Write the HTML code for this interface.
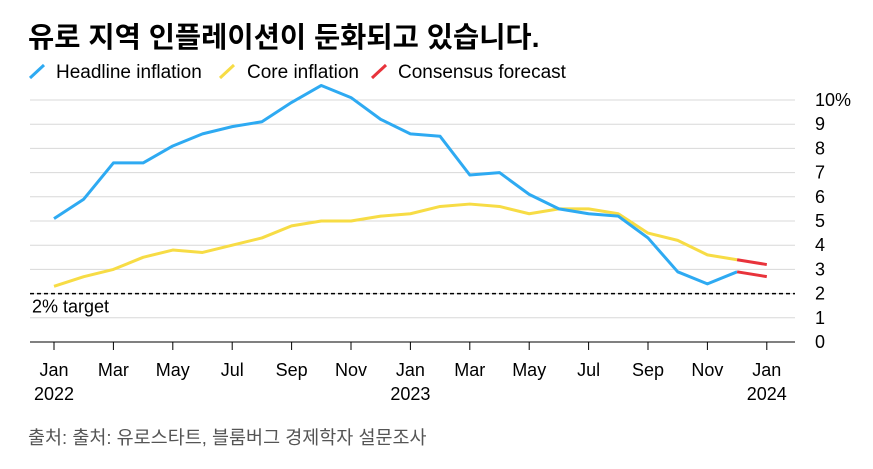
<!DOCTYPE html>
<html><head><meta charset="utf-8"><style>
body{margin:0;background:#fff;width:873px;height:464px;overflow:hidden;font-family:"Liberation Sans","Noto Sans CJK KR",sans-serif;}
</style></head><body>
<svg width="873" height="464" xmlns="http://www.w3.org/2000/svg" font-family="Liberation Sans, Noto Sans CJK KR, sans-serif">
<text x="28" y="47" font-size="28.5" font-weight="bold" fill="#000">유로 지역 인플레이션이 둔화되고 있습니다.</text>
<g>
<line x1="30" y1="78" x2="44" y2="65" stroke="#2eaaf2" stroke-width="3"/>
<text x="56" y="78" font-size="19" fill="#000">Headline inflation</text>
<line x1="220" y1="78" x2="234" y2="65" stroke="#f7dc45" stroke-width="3"/>
<text x="247" y="78" font-size="19" fill="#000">Core inflation</text>
<line x1="372" y1="78" x2="386" y2="65" stroke="#e8333b" stroke-width="3"/>
<text x="398" y="78" font-size="19" fill="#000">Consensus forecast</text>
</g>
<g id="grid"></g><g id="xaxis"></g><g id="series"></g>
<text x="28" y="444" font-size="18.5" fill="#555">출처: 출처: 유로스타트, 블룸버그 경제학자 설문조사</text>
</svg>
<script>
const yTicks=[0,1,2,3,4,5,6,7,8,9,10];
const xLabels=["Jan","Mar","May","Jul","Sep","Nov","Jan","Mar","May","Jul","Sep","Nov","Jan"];
const xYears=["2022","","","","","","2023","","","","","","2024"];
const headline=[5.1,5.9,7.4,7.4,8.1,8.6,8.9,9.1,9.9,10.6,10.1,9.2,8.6,8.5,6.9,7.0,6.1,5.5,5.3,5.2,4.3,2.9,2.4,2.9];
const core=[2.3,2.7,3.0,3.5,3.8,3.7,4.0,4.3,4.8,5.0,5.0,5.2,5.3,5.6,5.7,5.6,5.3,5.5,5.5,5.3,4.5,4.2,3.6,3.4];
const headlineForecast=[2.9,2.7];
const coreForecast=[3.4,3.2];
const target=2;
const NS="http://www.w3.org/2000/svg";
const X=i=>54+i*29.7, Y=v=>342-v*24.2;
function mk(tag,attrs,parent,txt){const e=document.createElementNS(NS,tag);for(const k in attrs)e.setAttribute(k,attrs[k]);if(txt!==undefined)e.textContent=txt;parent.appendChild(e);return e;}
const grid=document.getElementById('grid'),xa=document.getElementById('xaxis'),se=document.getElementById('series');
yTicks.forEach(t=>{
 const l=mk('line',{x1:30,x2:795,y1:Y(t),y2:Y(t),stroke:t===0?'#000':'#d8d8d8','stroke-width':1},grid);
 
 
 const tx=mk('text',{x:815,y:Y(t)+6,'font-size':18,fill:'#000'},grid,t===10?'10%':String(t));
 
 
});
const tl=mk('line',{x1:30,x2:795,y1:Y(target),y2:Y(target),stroke:'#000','stroke-width':1.5,'stroke-dasharray':'4,3'},grid);


const tt=mk('text',{x:32,y:Y(target)+19,'font-size':18,fill:'#000'},grid,'2% target');


xLabels.forEach((s,j)=>{
 const x=X(j*2);
 const tk=mk('line',{x1:x,x2:x,y1:342,y2:350,stroke:'#000'},xa);
 
 
 const t=mk('text',{x:x,y:376,'font-size':18,'text-anchor':'middle',fill:'#000'},xa,s);
 
 
 if(xYears[j]){const y=mk('text',{x:x,y:400,'font-size':18,'text-anchor':'middle',fill:'#000'},xa,xYears[j]);
 
 }
});
function line(arr,off,color,name){
 const p=mk('polyline',{points:arr.map((v,i)=>X(i+off)+','+Y(v)).join(' '),fill:'none',stroke:color,'stroke-width':3,'stroke-linejoin':'round'},se);
 
 
}
line(core,0,'#f7dc45','core-line');
line(headline,0,'#2eaaf2','headline-line');
line(coreForecast,core.length-1,'#e8333b','core-forecast');
line(headlineForecast,headline.length-1,'#e8333b','headline-forecast');
</script>
</body></html>
